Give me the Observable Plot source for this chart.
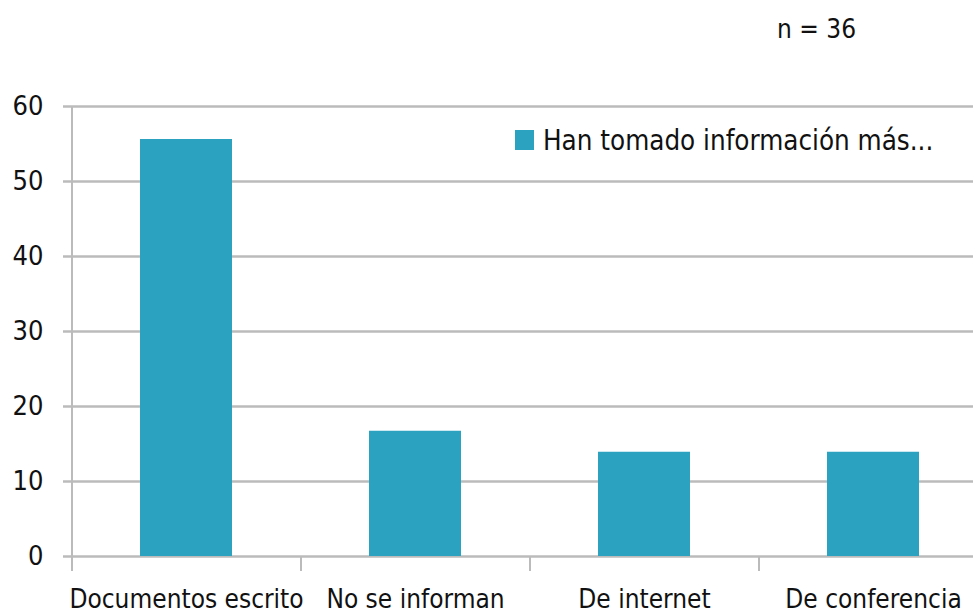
<!DOCTYPE html>
<html><head><meta charset="utf-8">
<script src="https://cdn.jsdelivr.net/npm/d3@7"></script>
<script src="https://cdn.jsdelivr.net/npm/@observablehq/plot@0.6"></script>
<style>
body{margin:0;background:#fff;}
#wrap{position:relative;width:973px;height:614px;overflow:hidden;font-family:"DejaVu Sans Condensed","Liberation Sans",Arial,sans-serif;}
#n{position:absolute;left:777px;top:14px;font-size:26px;color:#111;}
#legend{position:absolute;left:515px;top:124px;font-size:27.5px;color:#111;display:flex;align-items:center;}
#legend span.sw{display:inline-block;width:19px;height:20px;background:#2ba2bf;margin-right:9px;}
</style></head>
<body><div id="wrap"><div id="n">n = 36</div><div id="legend"><span class="sw"></span>Han tomado información más...</div></div>
<script>
const categories = ["Documentos escrito", "No se informan", "De internet", "De conferencia"];
const values = [55.6, 16.7, 13.9, 13.9];
const yTicks = [0, 10, 20, 30, 40, 50, 60];
const seriesName = "Han tomado información más...";

const data = categories.map((c, i) => ({cat: c, v: values[i]}));
const xRange = [71, 987];
const step = (xRange[1] - xRange[0]) / categories.length;
const font = '"DejaVu Sans Condensed","Liberation Sans",Arial,sans-serif';

const chart = Plot.plot({
  width: 973,
  height: 614,
  marginTop: 106,
  marginBottom: 58,
  marginLeft: 71,
  marginRight: 0,
  style: {fontFamily: font, fontSize: "27px", color: "#111", background: "transparent"},
  x: {domain: categories, range: xRange, paddingInner: 0.6, paddingOuter: 0.3, label: null},
  y: {domain: [0, 60], ticks: yTicks, label: null},
  marks: [
    Plot.ruleY(yTicks, {stroke: "#bbb", strokeWidth: 2.5, insetLeft: -8}),
    Plot.barY(data, {x: "cat", y: "v", fill: "#2ba2bf"}),
    Plot.ruleX(categories.slice(0, 1), {dx: -step / 2, y1: [60], y2: [0], insetBottom: -15, stroke: "#bbb", strokeWidth: 2}),
    Plot.ruleX(categories.slice(1), {dx: -step / 2, y1: 0, y2: 0, insetBottom: -15, stroke: "#bbb", strokeWidth: 2}),
    Plot.axisY({ticks: yTicks, tickSize: 0, tickPadding: 28, fontSize: 27, label: null}),
    Plot.axisX({tickSize: 0, tickPadding: 33, fontSize: 26, label: null})
  ]
});
chart.style.position = "absolute";
chart.style.left = "0";
chart.style.top = "0";
document.getElementById("wrap").prepend(chart);
</script></body></html>
